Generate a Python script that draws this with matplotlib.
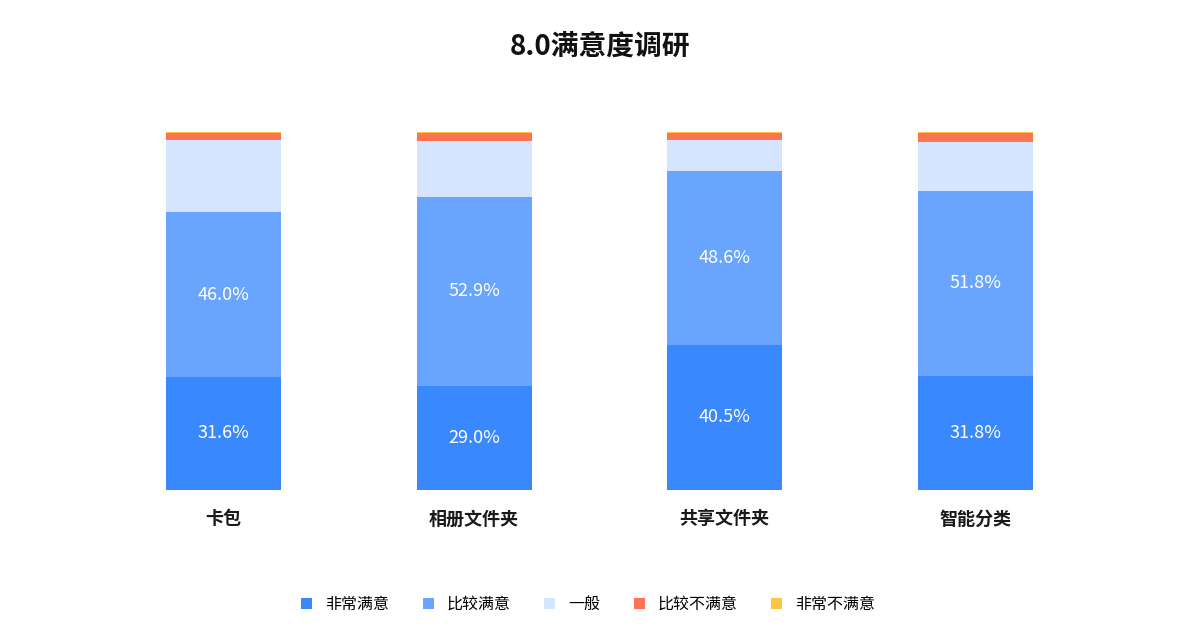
import numpy as np
import matplotlib
matplotlib.use("Agg")
import matplotlib.pyplot as plt
from matplotlib.patches import Patch

plt.rcParams['font.family'] = ['Noto Sans CJK SC', 'DejaVu Sans']

# =============================
# Données
# =============================
categories = ["卡包", "相册文件夹", "共享文件夹", "智能分类"]
series_names = ["非常满意", "比较满意", "一般", "比较不满意", "非常不满意"]

very_satisfied = [31.6, 29.0, 40.5, 31.8]
satisfied = [46.0, 52.9, 48.6, 51.8]
neutral = [20.1, 15.6, 8.6, 13.5]
unsatisfied = [2.0, 2.2, 2.0, 2.5]
very_unsatisfied = [0.3, 0.3, 0.3, 0.4]

colors = ["#3a88fd", "#69a5fe", "#d6e5fe", "#fd7452", "#fdc541"]

# =============================
# Figure
# =============================
fig = plt.figure(figsize=(12, 6.36), dpi=100)
ax = fig.add_axes([0.082, 0.2296, 0.835, 0.5629])

x = np.arange(len(categories))
width = 0.46
series = [very_satisfied, satisfied, neutral, unsatisfied, very_unsatisfied]

bottom = np.zeros(len(categories))
for vals, col, name in zip(series, colors, series_names):
    vals = np.array(vals)
    ax.bar(x, vals, width, bottom=bottom, color=col, label=name, linewidth=0)
    # étiquettes pour les deux premières séries
    if name in ("非常满意", "比较满意"):
        for xi, b, v in zip(x, bottom, vals):
            ax.text(xi, b + v / 2, f"{v:.1f}%", ha="center", va="center",
                    color="white", fontsize=13)
    bottom += vals

ax.set_xlim(-0.5, 3.5)
ax.set_ylim(0, 100)
ax.set_yticks([])
ax.set_xticks(x)
ax.set_xticklabels(categories, fontsize=13, fontweight="bold", color="#1a1a1a")
ax.tick_params(axis="x", length=0, pad=14)
for s in ax.spines.values():
    s.set_visible(False)

fig.text(0.5, 0.926, "8.0满意度调研", ha="center", va="center",
         fontsize=20, fontweight="bold", color="#111111")

handles = [Patch(facecolor=c, edgecolor="none") for c in colors]
fig.legend(handles, series_names, loc="center", bbox_to_anchor=(0.49, 0.05),
           ncol=5, frameon=False, fontsize=11.5, handlelength=0.7,
           handleheight=0.7, handletextpad=0.8, columnspacing=2.1)

fig.savefig("out.png", dpi=100, facecolor="white")
